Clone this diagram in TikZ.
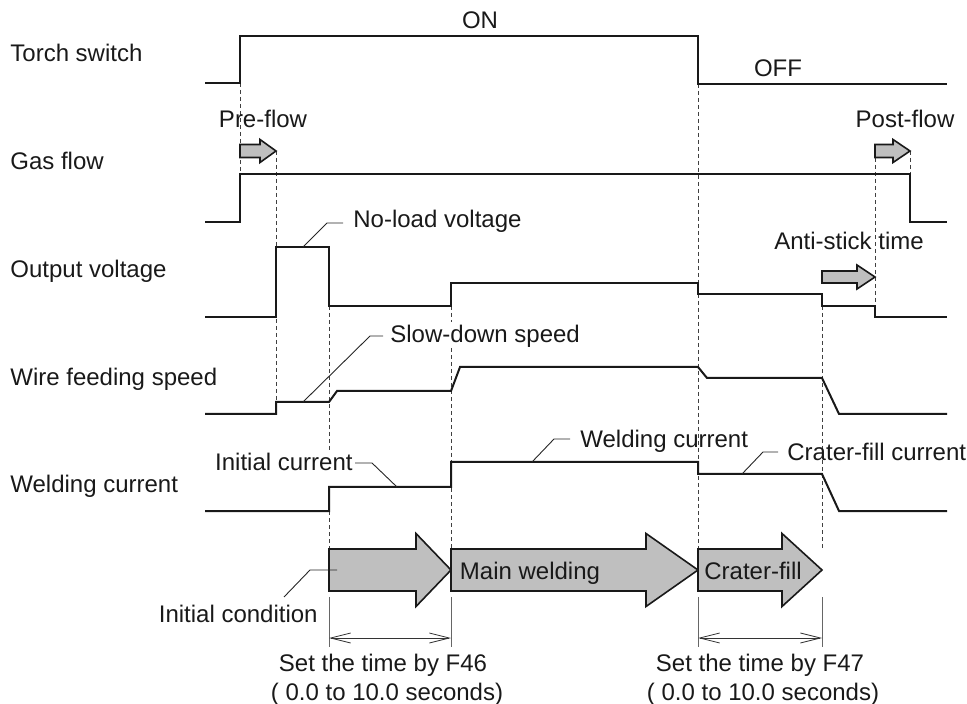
\documentclass[tikz,border=0pt]{standalone}
\usepackage{fontspec}
\setmainfont{Liberation Sans}
\usetikzlibrary{arrows.meta}
\tikzset{
    sig/.style={line width=1pt, black!90, line join=miter},
    guide/.style={line width=0.45pt, black!75, dash pattern=on 2pt off 1.5pt},
    leader/.style={line width=0.45pt, black!85},
    flow/.style={draw=black!90, line width=0.8pt, fill=black!25, line join=miter},
    dim/.style={{Straight Barb[length=10pt,width=5pt]}-{Straight Barb[length=10pt,width=5pt]}, line width=0.4pt, black!80},
    ext/.style={line width=0.4pt, black!60}
}
% block arrow: start, head start, tip, centre line, half shaft, half head
\newcommand{\blockarrow}[6]{%
  \draw[flow] (#1,{#4-#5}) -- (#2,{#4-#5}) -- (#2,{#4-#6}) -- (#3,#4)
    -- (#2,{#4+#6}) -- (#2,{#4+#5}) -- (#1,{#4+#5}) -- cycle;}

\begin{document}
\begin{tikzpicture}[
  x=0.5pt, y=-0.5pt,
  every node/.style={font=\fontsize{12}{14}\selectfont, inner sep=0pt, text=black!90},
  lbl/.style={anchor=base west},
  mid/.style={anchor=base}
]
\useasboundingbox (0,0) rectangle (967,704);

% Timing guides
\draw[guide] (240,83) -- (240,174);
\draw[guide] (276,151) -- (276,402);
\draw[guide] (329,306) -- (329,450);
\draw[guide] (329,511) -- (329,550);
\draw[guide] (451,306) -- (451,322);
\draw[guide] (451,348) -- (451,550);
\draw[guide] (698,84) -- (698,550);
\draw[guide] (822,306) -- (822,550);
\draw[guide] (875,151) -- (875,306);
\draw[guide] (910,151) -- (910,174);

% Signal names
\node[lbl] (torch)  at (10,62)  {Torch switch};
\node[lbl] (gas)    at (10,170) {Gas flow};
\node[lbl] (volt)   at (10,278) {Output voltage};
\node[lbl] (wire)   at (10,386) {Wire feeding speed};
\node[lbl] (curr)   at (10,493) {Welding current};

% Waveforms
\draw[sig] (205,83) -- (240,83) -- (240,36) -- (698,36) -- (698,84) -- (947,84);
\draw[sig] (205,222) -- (240,222) -- (240,174) -- (910,174) -- (910,222) -- (947,222);
\draw[sig] (205,317) -- (276,317) -- (276,247) -- (329,247) -- (329,306) -- (451,306)
  -- (451,283) -- (698,283) -- (698,294) -- (822,294) -- (822,306) -- (875,306)
  -- (875,317) -- (947,317);
\draw[sig] (205,414) -- (276,414) -- (276,402) -- (329,402) -- (337,391) -- (451,391)
  -- (460,367) -- (698,367) -- (707,378) -- (822,378) -- (839,414) -- (947,414);
\draw[sig] (205,511) -- (329,511) -- (329,487) -- (451,487) -- (451,462) -- (698,462)
  -- (698,474) -- (822,474) -- (839,511) -- (947,511);

\node[mid] (on)  at (480,29) {ON};
\node[mid] (off) at (778,77) {OFF};

% Timers
\blockarrow{240}{260}{276}{151}{6.5}{11.5}
\blockarrow{875}{893}{910}{151}{6.5}{11.5}
\blockarrow{822}{857}{875}{277}{6}{12}
\node[mid] (pre)  at (263,128) {Pre-flow};
\node[mid] (post) at (905,128) {Post-flow};
\node[mid] (anti) at (849,250) {Anti-stick time};

% Callouts
\node[lbl] (noload) at (353,228) {No-load voltage};
\draw[leader] ([shift={(-10,-5)}]noload.base west) -- ++(-16,0) -- (303,247);
\node[lbl] (slow) at (390,343) {Slow-down speed};
\draw[leader] ([shift={(-7,-7)}]slow.base west) -- ++(-13,0) -- (303,402);
\node[anchor=base east] (initcur) at (353,471) {Initial current};
\draw[leader] ([shift={(2,-8)}]initcur.base east) -- ++(17,0) -- (397,487);
\node[lbl] (weldcur) at (580,448) {Welding current};
\draw[leader] ([shift={(-10,-9)}]weldcur.base west) -- ++(-16,0) -- (532,462);
\node[lbl] (cratercur) at (787,461) {Crater-fill current};
\draw[leader] ([shift={(-9,-9)}]cratercur.base west) -- ++(-15,0) -- (742,474);

% Sequence
\blockarrow{329}{416}{451}{570}{21}{36.5}
\blockarrow{451}{646}{698}{570}{21}{36.5}
\blockarrow{698}{782}{822}{570}{21}{36.5}
\node[mid] (main)   at (530,579) {Main welding};
\node[mid] (crater) at (753,579) {Crater-fill};
\node[anchor=base east] (initcond) at (318,622) {Initial condition};
\draw[leader] ([shift={(-34,-25)}]initcond.base east) -- (310,570) -- (337,570);

% Setting ranges
\draw[ext] (329,597) -- (329,647);
\draw[ext] (451,597) -- (451,647);
\draw[ext] (698,597) -- (698,647);
\draw[ext] (822,597) -- (822,647);
\draw[dim] (329,638) -- (451,638);
\draw[dim] (698,638) -- (822,638);
\node[mid] (f46)  at (383,671) {Set the time by F46};
\node[mid] (r46)  at (387,700) {( 0.0 to 10.0 seconds)};
\node[mid] (f47)  at (760,671) {Set the time by F47};
\node[mid] (r47)  at (763,700) {( 0.0 to 10.0 seconds)};
\end{tikzpicture}
\end{document}
